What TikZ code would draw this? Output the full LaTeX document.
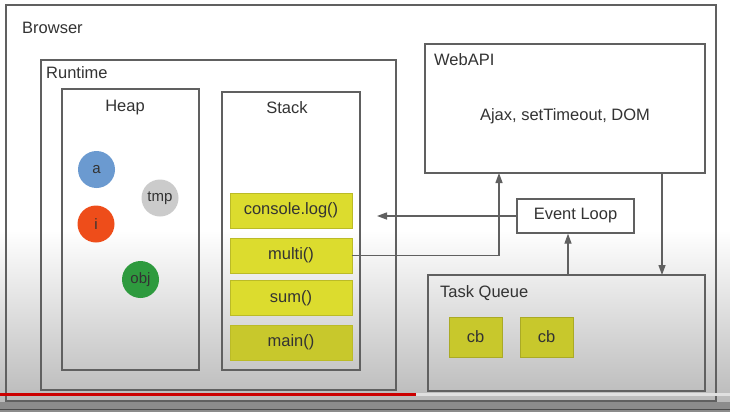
\documentclass[tikz,border=0pt]{standalone}
\usepackage{fontspec}
\setmainfont{Liberation Sans}
\usetikzlibrary{arrows.meta}
\usetikzlibrary{positioning}

\definecolor{boxline}{HTML}{606060}
\definecolor{frameyellow}{HTML}{DCDC2E}
\definecolor{cbyellow}{HTML}{C8C82C}
\definecolor{heapblue}{HTML}{6B9AD0}
\definecolor{heapgray}{HTML}{CBCBCB}
\definecolor{heapred}{HTML}{EE4D1A}
\definecolor{heapgreen}{HTML}{2E9A3E}
\definecolor{textgray}{HTML}{333333}
\definecolor{barred}{HTML}{CC0000}

\tikzset{
  area/.style={draw=boxline, line width=1.3pt, inner sep=0pt},
  boxtitle/.style={text=textgray, font=\fontsize{16.5}{19}\selectfont, inner sep=0pt},
  stackframe/.style={fill=frameyellow, draw=frameyellow!85!black, line width=0.5pt, minimum width=122pt, minimum height=35pt, inner sep=0pt, text=textgray, font=\fontsize{16.5}{19}\selectfont},
  cbbox/.style={fill=cbyellow, draw=cbyellow!85!black, line width=0.5pt, minimum width=53pt, minimum height=40pt, inner sep=0pt, text=textgray, font=\fontsize{16.5}{19}\selectfont},
  heapobj/.style={circle, minimum size=37pt, inner sep=0pt, text=textgray, font=\fontsize{15}{18}\selectfont},
  flow/.style={draw=boxline, line width=1.3pt, -{Triangle[length=10pt,width=7pt]}}
}

\begin{document}
\begin{tikzpicture}[x=1pt, y=-1pt]
  \useasboundingbox (0,0) rectangle (730,412);
  % screen background
  \fill[white] (0,0) rectangle (730,412);
  \shade[top color=white, bottom color=black!27] (0,230) rectangle (730,402);
  \fill[black!45] (0,402) rectangle (730,412);
  \draw[black!70, line width=1pt] (0,409) -- (730,409);

  % boxes
  \node[area, minimum width=710pt, minimum height=396pt] (browser) at (361,203) {};
  \node[area, minimum width=355pt, minimum height=330pt] (runtime) at (218.5,225) {};
  \node[area, minimum width=137pt, minimum height=281pt] (heap) at (130.5,229.5) {};
  \node[area, minimum width=138pt, minimum height=278pt] (stack) at (291,231) {};
  \node[area, minimum width=280pt, minimum height=129pt] (webapi) at (565,108.5) {};
  \node[area, minimum width=117pt, minimum height=34pt, boxtitle] (eventloop) at (575.5,216) {Event Loop};
  \node[area, minimum width=277pt, minimum height=116pt] (taskqueue) at (566.5,333) {};

  % titles
  \node[boxtitle, anchor=west] (browsertitle) at (22,28) {Browser};
  \node[boxtitle, anchor=west] (runtimetitle) at (46,73) {Runtime};
  \node[boxtitle] (heaptitle) at (125,108) {Heap};
  \node[boxtitle] (stacktitle) at (287,108) {Stack};
  \node[boxtitle, anchor=west] (webapititle) at (434,60) {WebAPI};
  \node[boxtitle] (apis) at (565,116) {Ajax, setTimeout, DOM};
  \node[boxtitle, anchor=west] (taskqueuetitle) at (440,293) {Task Queue};

  % heap objects
  \node[heapobj, fill=heapblue] (a) at (96.5,169.5) {a};
  \node[heapobj, fill=heapgray] (tmp) at (160,198) {tmp};
  \node[heapobj, fill=heapred] (i) at (96,224) {i};
  \node[heapobj, fill=heapgreen] (obj) at (140.5,279.5) {obj};

  % call stack
  \node[stackframe] (console) at (291,210.5) {console.log()};
  \node[stackframe] (multi) at (291,255.5) {multi()};
  \node[stackframe] (sum) at (291,298) {sum()};
  \node[stackframe, fill=cbyellow] (main) at (291,342.5) {main()};

  % callbacks
  \node[cbbox] (cbone) at (475.5,337) {cb};
  \node[cbbox] (cbtwo) at (546.5,337) {cb};

  % connectors
  \coordinate (toconsole) at (377,216);
  \coordinate (ajaxin) at (499,173);
  \coordinate (apiout) at (662,173);
  \coordinate (queuein) at (662,275);
  \coordinate (queueout) at (568,275);
  \draw[flow] (eventloop.west) -- (toconsole);
  \draw[flow] (multi.east) -| (ajaxin);
  \draw[flow] (apiout) -- (queuein);
  \draw[flow] (queueout) -- (queueout |- eventloop.south);

  % progress bar
  \draw[black!12, line width=3pt] (416,394) -- (730,394);
  \draw[barred, line width=3pt] (0,394) -- (416,394);
\end{tikzpicture}
\end{document}
